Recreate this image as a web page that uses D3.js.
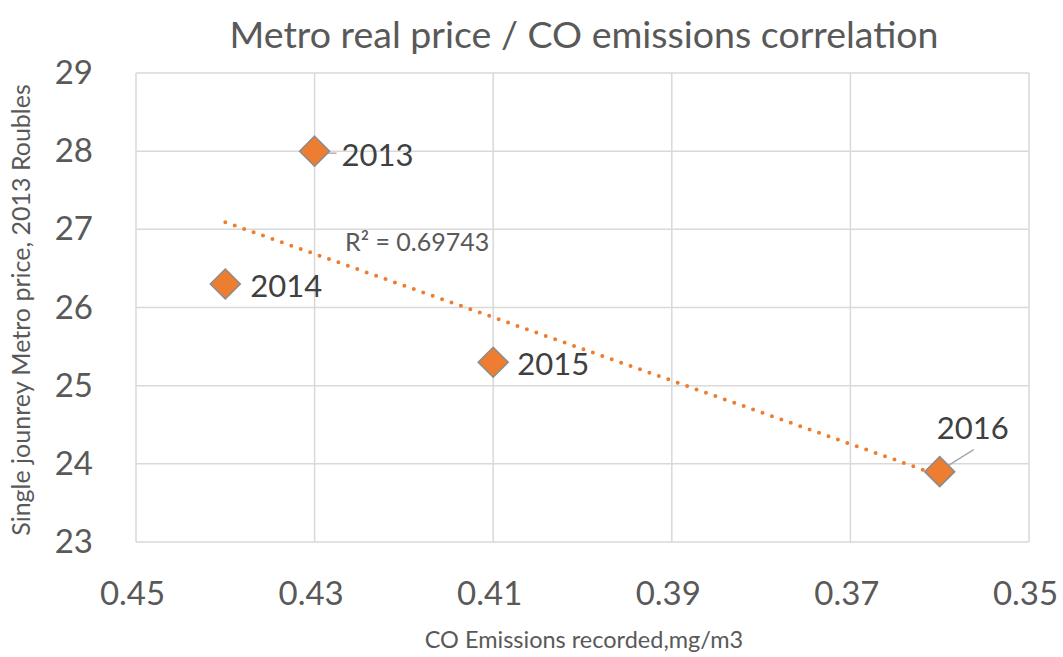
<!DOCTYPE html>
<html>
<head>
<meta charset="utf-8">
<script src="https://cdn.jsdelivr.net/npm/d3@7"></script>
<style>
  html, body { margin: 0; padding: 0; background: #fff; }
  svg { display: block; font-family: Lato, "Open Sans", sans-serif; }
</style>
</head>
<body>
<svg id="chart" width="1063" height="657"></svg>
<script>
// CO emissions (mg/m3) vs real single-journey metro price (2013 roubles)
const years = ["2013", "2014", "2015", "2016"];
const emissions = [0.43, 0.44, 0.41, 0.36];
const prices = [28.0, 26.3, 25.3, 23.9];
const xTicks = [0.45, 0.43, 0.41, 0.39, 0.37, 0.35];
const yTicks = [23, 24, 25, 26, 27, 28, 29];
const r2Label = "R² = 0.69743";

const svg = d3.select("#chart");
const plotLeft = 136, plotRight = 1029, plotTop = 73, plotBottom = 542;

// x axis runs in reverse: high emissions on the left
const x = d3.scaleLinear().domain([0.45, 0.35]).range([plotLeft, plotRight]);
const y = d3.scaleLinear().domain([23, 29]).range([plotBottom, plotTop]);

const gridColor = "#d9d9d9";
const textColor = "#595959";

// gridlines
svg.append("g").selectAll("line").data(xTicks).join("line")
  .attr("x1", d => x(d)).attr("x2", d => x(d))
  .attr("y1", plotTop).attr("y2", plotBottom)
  .attr("stroke", gridColor).attr("stroke-width", 1.5);
svg.append("g").selectAll("line").data(yTicks).join("line")
  .attr("x1", plotLeft).attr("x2", plotRight)
  .attr("y1", d => y(d)).attr("y2", d => y(d))
  .attr("stroke", gridColor).attr("stroke-width", 1.5);

// tick labels
const xAxis = d3.axisBottom(x).tickValues(xTicks).tickFormat(d3.format(".2f")).tickSize(0).tickPadding(40);
const gx = svg.append("g").attr("transform", `translate(0,${plotBottom})`).call(xAxis);
gx.select(".domain").remove();
gx.selectAll("text").attr("font-size", 33).attr("dx", -4)
  .attr("fill", textColor).attr("font-family", "Lato, sans-serif");

const yAxis = d3.axisLeft(y).tickValues(yTicks).tickFormat(d3.format("d")).tickSize(0).tickPadding(43);
const gy = svg.append("g").attr("transform", `translate(${plotLeft},0)`).call(yAxis);
gy.select(".domain").remove();
gy.selectAll("text").attr("font-size", 33).attr("fill", textColor).attr("font-family", "Lato, sans-serif");

// title
svg.append("text")
  .attr("x", 584).attr("y", 48)
  .attr("text-anchor", "middle")
  .attr("font-size", 37.5).attr("fill", textColor)
  .text("Metro real price / CO emissions correlation");

// axis titles
svg.append("text")
  .attr("x", 584).attr("y", 648)
  .attr("text-anchor", "middle")
  .attr("font-size", 23.5).attr("fill", textColor)
  .text("CO Emissions recorded,mg/m3");
svg.append("text")
  .attr("transform", "translate(30,310) rotate(-90)")
  .attr("text-anchor", "middle")
  .attr("font-size", 25).attr("fill", textColor)
  .text("Single jounrey Metro price, 2013 Roubles");

// least-squares trend line over the data range
const mx = d3.mean(emissions), my = d3.mean(prices);
const sxy = d3.sum(emissions, (e, i) => (e - mx) * (prices[i] - my));
const sxx = d3.sum(emissions, e => (e - mx) ** 2);
const slope = sxy / sxx, intercept = my - slope * mx;
const [xMin, xMax] = d3.extent(emissions);
svg.append("line")
  .attr("x1", x(xMax)).attr("y1", y(slope * xMax + intercept))
  .attr("x2", x(xMin)).attr("y2", y(slope * xMin + intercept))
  .attr("stroke", "#ED7D31").attr("stroke-width", 4)
  .attr("stroke-linecap", "round").attr("stroke-dasharray", "0 10");

svg.append("text")
  .attr("x", 345).attr("y", 251)
  .attr("font-size", 25).attr("fill", textColor)
  .text(r2Label);

// data labels: offsets from each point, with leader lines where labels sit apart
const labelOffsets = [
  { dx: 27, dy: 15, anchor: "start", leader: [8, 2, 22, 2] },
  { dx: 25, dy: 13, anchor: "start", leader: null },
  { dx: 24, dy: 13, anchor: "start", leader: null },
  { dx: 33, dy: -33, anchor: "middle", leader: [2, -2, 34, -22] }
];
const points = years.map((yr, i) => ({ yr, cx: x(emissions[i]), cy: y(prices[i]), o: labelOffsets[i] }));

svg.append("g").selectAll("line").data(points.filter(p => p.o.leader)).join("line")
  .attr("x1", p => p.cx + p.o.leader[0]).attr("y1", p => p.cy + p.o.leader[1])
  .attr("x2", p => p.cx + p.o.leader[2]).attr("y2", p => p.cy + p.o.leader[3])
  .attr("stroke", "#a6a6a6").attr("stroke-width", 1.3);

// diamond markers
const r = 15;
svg.append("g").selectAll("path").data(points).join("path")
  .attr("d", p => `M${p.cx},${p.cy - r}L${p.cx + r},${p.cy}L${p.cx},${p.cy + r}L${p.cx - r},${p.cy}Z`)
  .attr("fill", "#ED7D31").attr("stroke", "#8c8c8c").attr("stroke-width", 1.5);

svg.append("g").selectAll("text").data(points).join("text")
  .attr("x", p => p.cx + p.o.dx).attr("y", p => p.cy + p.o.dy)
  .attr("text-anchor", p => p.o.anchor)
  .attr("font-size", 31).attr("fill", "#404040")
  .text(p => p.yr);
</script>
</body>
</html>
